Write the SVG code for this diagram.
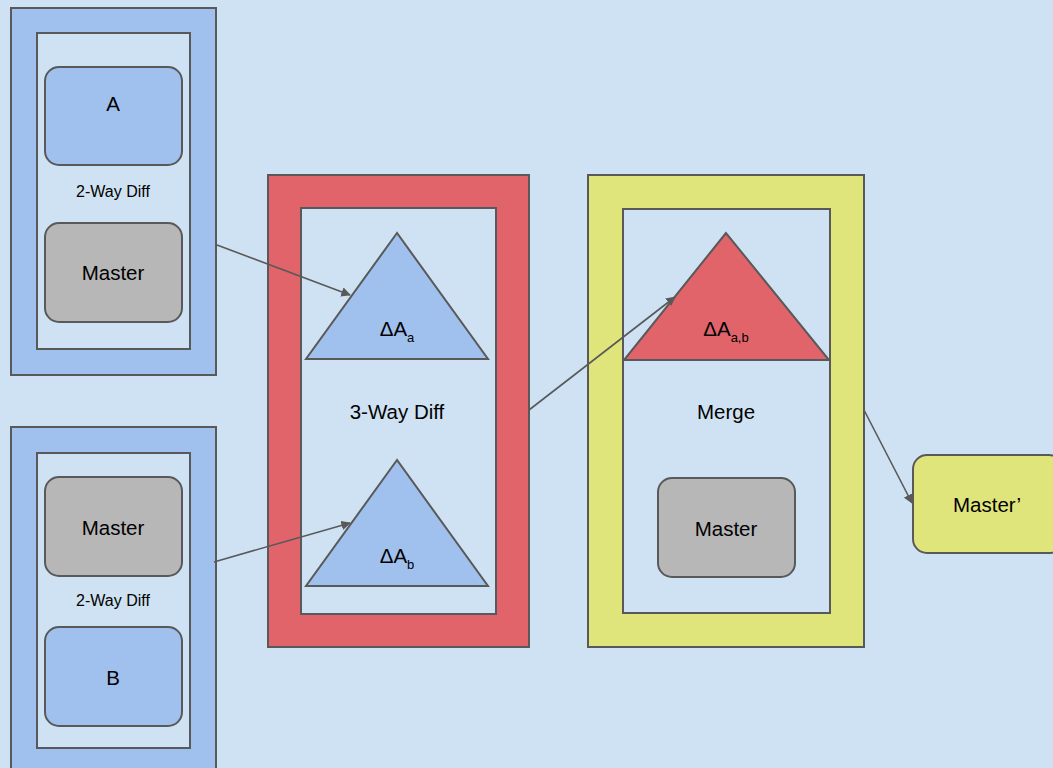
<svg xmlns="http://www.w3.org/2000/svg" width="1053" height="768" viewBox="0 0 1053 768">
<defs>
<marker id="arr" viewBox="0 0 10 10" refX="9" refY="5" markerWidth="6" markerHeight="6" orient="auto" markerUnits="strokeWidth">
<path d="M0,0 L10,5 L0,10 Z" fill="#595959"/>
</marker>
<style>
.s{stroke:#595959;stroke-width:2}
.bg{fill:#cfe2f3}
.blue{fill:#a0c1ee}
.red{fill:#e06469}
.yel{fill:#dfe57b}
.gray{fill:#b7b7b7}
text{font-family:"Liberation Sans",Arial,sans-serif;fill:#000;text-anchor:middle}
.t18{font-size:20.5px}
.t14{font-size:16px}
.sub{font-size:13px}
.conn{stroke:#595959;stroke-width:1.6;fill:none;marker-end:url(#arr)}
</style>
</defs>
<rect x="0" y="0" width="1053" height="768" class="bg"/>

<g id="diffA">
<rect x="11" y="8" width="205" height="367" class="s blue"/>
<rect x="37" y="33" width="153" height="316" class="s bg"/>
<rect x="45" y="67" width="137" height="98" rx="14" class="s blue"/>
<text x="113" y="111" class="t18">A</text>
<text x="113" y="197" class="t14">2-Way Diff</text>
<rect x="45" y="223" width="137" height="99" rx="14" class="s gray"/>
<text x="113" y="280" class="t18">Master</text>
</g>

<g id="diffB">
<rect x="11" y="427" width="205" height="360" class="s blue"/>
<rect x="37" y="453" width="153" height="295" class="s bg"/>
<rect x="45" y="477" width="137" height="99" rx="14" class="s gray"/>
<text x="113" y="535" class="t18">Master</text>
<text x="113" y="606" class="t14">2-Way Diff</text>
<rect x="45" y="627" width="137" height="99" rx="14" class="s blue"/>
<text x="113" y="685" class="t18">B</text>
</g>

<g id="threeway">
<rect x="268" y="175" width="261" height="472" class="s red"/>
<rect x="301" y="208" width="195" height="406" class="s bg"/>
<polygon points="397,233 306,359 488,359" class="s blue"/>
<text x="397" y="336" class="t18">ΔA<tspan class="sub" dy="6">a</tspan></text>
<text x="397" y="419" class="t18">3-Way Diff</text>
<polygon points="397,460 306,586 488,586" class="s blue"/>
<text x="397" y="563" class="t18">ΔA<tspan class="sub" dy="6">b</tspan></text>
</g>

<g id="merge">
<rect x="588" y="175" width="276" height="472" class="s yel"/>
<rect x="623" y="209" width="207" height="404" class="s bg"/>
<polygon points="726,233 624,360 829,360" class="s red"/>
<text x="726" y="336" class="t18">ΔA<tspan class="sub" dy="6">a,b</tspan></text>
<text x="726" y="419" class="t18">Merge</text>
<rect x="658" y="478" width="137" height="99" rx="14" class="s gray"/>
<text x="726" y="536" class="t18">Master</text>
</g>

<g id="masterPrime">
<rect x="913" y="455" width="150" height="98" rx="14" class="s yel"/>
<text x="987" y="512" class="t18">Master’</text>
</g>

<g id="connectors">
<line x1="217" y1="245" x2="350" y2="295" class="conn"/>
<line x1="214" y1="562" x2="350" y2="523" class="conn"/>
<line x1="529" y1="410" x2="675" y2="297" class="conn"/>
<line x1="864" y1="410" x2="912" y2="503" class="conn"/>
</g>
</svg>
